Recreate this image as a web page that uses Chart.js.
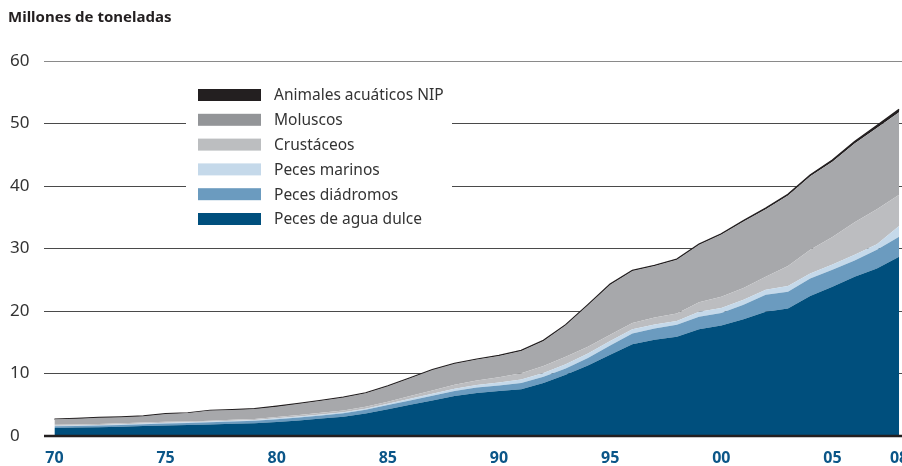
<!DOCTYPE html>
<html><head><meta charset="utf-8">
<script src="https://cdn.jsdelivr.net/npm/chart.js@4.4.0/dist/chart.umd.min.js"></script>
<style>html,body{margin:0;padding:0;background:#fff;}#wrap{width:902px;height:466px;position:relative;}</style>
</head><body><div id="wrap"><canvas id="c" width="902" height="466"></canvas></div>
<script>
const years = [1970,1971,1972,1973,1974,1975,1976,1977,1978,1979,1980,1981,1982,1983,1984,1985,1986,1987,1988,1989,1990,1991,1992,1993,1994,1995,1996,1997,1998,1999,2000,2001,2002,2003,2004,2005,2006,2007,2008];
const pecesAguaDulce = [1.3,1.35,1.4,1.5,1.6,1.7,1.75,1.85,1.95,2.05,2.25,2.5,2.8,3.1,3.6,4.3,5.0,5.7,6.4,6.9,7.2,7.5,8.5,9.8,11.3,13.0,14.7,15.4,15.9,17.1,17.7,18.7,19.9,20.4,22.4,23.9,25.5,26.8,28.7];
const pecesDiadromos = [0.25,0.25,0.27,0.28,0.3,0.3,0.32,0.34,0.36,0.38,0.45,0.48,0.5,0.55,0.6,0.65,0.7,0.75,0.8,0.85,0.9,1.0,1.0,1.0,1.2,1.5,1.7,1.8,1.9,2.0,2.0,2.3,2.7,2.7,2.8,2.7,2.6,3.0,3.2];
const pecesMarinos = [0.1,0.1,0.1,0.1,0.1,0.12,0.12,0.12,0.13,0.13,0.15,0.15,0.16,0.17,0.18,0.2,0.25,0.3,0.35,0.4,0.45,0.55,0.6,0.7,0.7,0.7,0.7,0.65,0.6,0.8,0.8,0.8,0.8,0.9,0.8,0.85,0.9,0.9,1.7];
const crustaceos = [0.15,0.15,0.15,0.15,0.15,0.15,0.15,0.15,0.17,0.18,0.2,0.22,0.25,0.28,0.3,0.35,0.45,0.55,0.65,0.75,0.85,1.0,1.1,1.2,1.1,1.0,1.0,1.1,1.2,1.5,1.8,1.9,2.1,3.2,3.8,4.4,5.2,5.6,5.0];
const moluscos = [0.87,0.92,1.0,0.99,1.02,1.25,1.33,1.61,1.56,1.58,1.65,1.8,1.94,2.05,2.17,2.45,2.85,3.25,3.35,3.35,3.42,3.57,4.02,5.02,6.62,8.02,8.32,8.27,8.62,9.22,9.95,10.63,10.8,11.3,11.75,12.05,12.6,13.0,13.2];
const animalesNIP = [0.03,0.03,0.03,0.03,0.03,0.03,0.03,0.03,0.03,0.03,0.05,0.05,0.05,0.05,0.05,0.05,0.05,0.05,0.05,0.05,0.08,0.08,0.08,0.08,0.08,0.08,0.08,0.08,0.08,0.08,0.1,0.12,0.15,0.15,0.2,0.25,0.3,0.35,0.45];
const xTickYears = [1970,1975,1980,1985,1990,1995,2000,2005,2008];
const xTickLabels = ['70','75','80','85','90','95','00','05','08'];
const yTicks = [0,10,20,30,40,50,60];
const titleText = 'Millones de toneladas';

const FONT = "'Noto Sans', 'DejaVu Sans', sans-serif";
const pts = arr => years.map((y,i)=>({x:y, y:arr[i]}));

const series = [
  {label:'Peces de agua dulce', data:pecesAguaDulce, color:'#004f7d', legend:'#004f7d'},
  {label:'Peces diádromos', data:pecesDiadromos, color:'#6b9bbf', legend:'#6b9bbf'},
  {label:'Peces marinos', data:pecesMarinos, color:'#c5d9ea', legend:'#c5d9ea'},
  {label:'Crustáceos', data:crustaceos, color:'#bcbdc0', legend:'#bcbec0'},
  {label:'Moluscos', data:moluscos, color:'#a7a8ab', legend:'#939598'},
  {label:'Animales acuáticos NIP', data:animalesNIP, color:'#231f20', legend:'#231f20'}
];

const datasets = series.map((s,i)=>({
  label:s.label,
  data:pts(s.data),
  backgroundColor:s.color,
  borderColor: i===series.length-1 ? '#231f20' : s.color,
  borderWidth: i===series.length-1 ? 1.5 : 0,
  fill: i===0 ? 'origin' : '-1',
  pointRadius:0,
  tension:0,
  legendColor:s.legend
}));

const customDraw = {
  id:'customDraw',
  beforeDatasetsDraw(chart){
    const ctx = chart.ctx;
    ctx.save();
    ctx.fillStyle = '#fff';
    ctx.fillRect(186, 82, 266, 150);
    ctx.restore();
  },
  afterDatasetsDraw(chart){
    const ctx = chart.ctx, ys = chart.scales.y, a = chart.chartArea;
    const y0 = ys.getPixelForValue(0);
    ctx.save();
    ctx.strokeStyle = '#231f20';
    ctx.lineWidth = 2.5;
    ctx.beginPath(); ctx.moveTo(a.left, y0); ctx.lineTo(a.right, y0); ctx.stroke();
    ctx.restore();
  },
  afterDraw(chart){
    const ctx = chart.ctx, xs = chart.scales.x;
    ctx.save();
    ctx.fillStyle = '#231f20';
    ctx.font = 'bold 15px ' + FONT;
    ctx.textAlign = 'left'; ctx.textBaseline = 'middle';
    ctx.fillText(titleText, 8, 18);
    ctx.fillStyle = '#0b5688';
    ctx.font = 'bold 16px ' + FONT;
    ctx.textAlign = 'center';
    xTickYears.forEach((yr,i)=>{
      ctx.fillText(xTickLabels[i], xs.getPixelForValue(yr), 458);
    });
    const dsList = chart.data.datasets.slice().reverse();
    ctx.font = '15.5px ' + FONT;
    ctx.textAlign = 'left';
    dsList.forEach((ds,i)=>{
      const cy = 95 + i*24.8;
      ctx.fillStyle = ds.legendColor;
      ctx.fillRect(198, cy-6, 63, 12);
      ctx.fillStyle = '#333333';
      ctx.fillText(ds.label, 274, cy+1);
    });
    ctx.restore();
  }
};

new Chart(document.getElementById('c'), {
  type:'line',
  data:{datasets},
  options:{
    responsive:false,
    animation:false,
    devicePixelRatio:1,
    layout:{padding:{top:61,left:10,right:0,bottom:0}},
    plugins:{legend:{display:false}, tooltip:{enabled:false}, title:{display:false}},
    scales:{
      x:{
        type:'linear', min:1969.53, max:2008.13,
        grid:{display:false}, border:{display:false},
        ticks:{display:false},
        afterFit(s){ s.height = 30; }
      },
      y:{
        stacked:true, min:0, max:60,
        afterBuildTicks(s){ s.ticks = yTicks.map(v=>({value:v})); },
        grid:{
          drawTicks:false,
          color: c => c.tick && c.tick.value===60 ? '#8a8a8a' : '#4a4a4a',
          lineWidth:1
        },
        border:{display:false},
        ticks:{crossAlign:'far', padding:0, color:'#333333', font:{family:FONT, size:17}},
        afterFit(s){ s.width = 34; }
      }
    }
  },
  plugins:[customDraw]
});
</script></body></html>
